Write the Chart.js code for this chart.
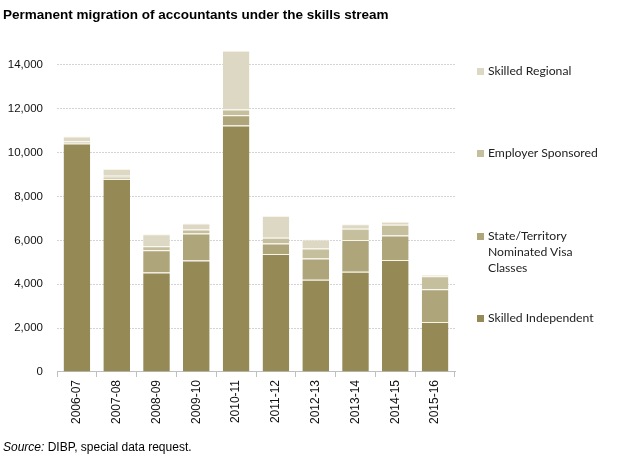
<!DOCTYPE html>
<html>
<head>
<meta charset="utf-8">
<script src="https://cdn.jsdelivr.net/npm/chart.js"></script>
<style>
  html, body { margin: 0; padding: 0; background: #fff; }
  #wrap { position: relative; width: 620px; height: 460px; }
  #title { position: absolute; left: 3px; top: 7px; font: bold 13.5px "Liberation Sans", Arial, sans-serif; color: #000; }
  #source { position: absolute; left: 3px; top: 440px; font: 12px "Liberation Sans", Arial, sans-serif; color: #000; }
  .leg { position: absolute; left: 477px; font: 12.2px Lato, "Open Sans", sans-serif; color: #222; line-height: 16px; }
  .leg i { position: absolute; left: 0; top: 5px; width: 7px; height: 7px; }
  .leg span { display: block; margin-left: 11px; }
</style>
</head>
<body>
<div id="wrap">
  <canvas id="myChart" width="620" height="460"></canvas>
  <div id="title">Permanent migration of accountants under the skills stream</div>
  <div id="source"><i>Source:</i> DIBP, special data request.</div>
</div>
<script>
const categories = ['2006-07', '2007-08', '2008-09', '2009-10', '2010-11', '2011-12', '2012-13', '2013-14', '2014-15', '2015-16'];
const skilledIndependent = [10420, 8800, 4530, 5080, 11240, 5380, 4205, 4570, 5105, 2280];
const stateTerritory = [30, 50, 1020, 1235, 460, 475, 965, 1450, 1115, 1495];
const employerSponsored = [70, 100, 180, 185, 270, 260, 460, 510, 490, 585];
const skilledRegional = [220, 300, 550, 275, 2680, 995, 410, 210, 140, 60];
const yTicks = [0, 2000, 4000, 6000, 8000, 10000, 12000, 14000];

// legend text, colour, and top of the first line (px)
const series = [
  { label: 'Skilled Independent', lines: ['Skilled Independent'], data: skilledIndependent, color: '#958a56', top: 310 },
  { label: 'State/Territory Nominated Visa Classes', lines: ['State/Territory', 'Nominated Visa', 'Classes'], data: stateTerritory, color: '#aea57b', top: 228 },
  { label: 'Employer Sponsored', lines: ['Employer Sponsored'], data: employerSponsored, color: '#c5bf9e', top: 145 },
  { label: 'Skilled Regional', lines: ['Skilled Regional'], data: skilledRegional, color: '#ddd8c3', top: 63 }
];

const wrap = document.getElementById('wrap');
series.forEach(s => {
  const d = document.createElement('div');
  d.className = 'leg';
  d.style.top = s.top + 'px';
  d.innerHTML = '<i style="background:' + s.color + '"></i><span>' + s.lines.join('<br>') + '</span>';
  wrap.appendChild(d);
});

const tickFont = { family: '"Liberation Sans", Arial, sans-serif', size: 11.5 };

const config = {
  type: 'bar',
  data: {
    labels: categories,
    datasets: series.map(s => ({
      label: s.label,
      data: s.data,
      backgroundColor: s.color,
      borderColor: '#f7f4e8',
      borderWidth: { top: 1, right: 0, bottom: 0, left: 0 },
      borderSkipped: false,
      barPercentage: 0.67,
      categoryPercentage: 1
    }))
  },
  options: {
    responsive: false,
    animation: false,
    layout: { padding: { top: 43, right: 165, bottom: 33, left: 7 } },
    plugins: { legend: { display: false }, title: { display: false }, tooltip: { enabled: false } },
    scales: {
      x: {
        stacked: true,
        grid: { drawOnChartArea: false, color: '#bfbfbf', tickLength: 5, offset: true },
        border: { color: '#bfbfbf' },
        ticks: { color: '#111', font: { family: tickFont.family, size: 12 }, minRotation: 90, maxRotation: 90, padding: 3 }
      },
      y: {
        stacked: true,
        min: 0,
        max: 15000,
        afterBuildTicks: axis => { axis.ticks = yTicks.map(v => ({ value: v })); },
        afterFit: axis => { axis.width = 50; },
        grid: {
          drawTicks: false,
          color: ctx => (ctx.tick && ctx.tick.value === 0 ? 'rgba(0,0,0,0)' : '#d4d4d4'),
          borderDash: [2, 1]
        },
        border: { display: false, dash: [2, 1] },
        ticks: {
          color: '#111',
          font: tickFont,
          padding: 14,
          callback: v => v.toLocaleString('en-US')
        }
      }
    }
  }
};

new Chart(document.getElementById('myChart').getContext('2d'), config);
</script>
</body>
</html>
